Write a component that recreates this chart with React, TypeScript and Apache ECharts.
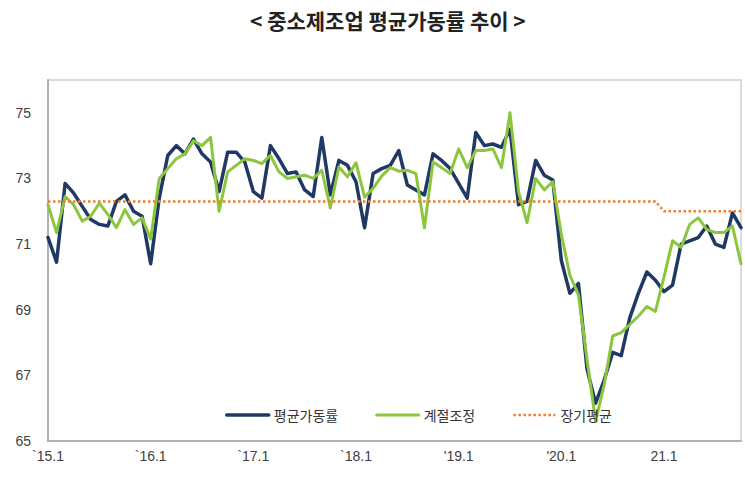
import { useEffect, useRef } from 'react';
import * as echarts from 'echarts';

// ─── Data ─────────────────────────────────────────────────────────────────────

const YEARS = [2015, 2016, 2017, 2018, 2019, 2020, 2021];
const LAST_MONTH_2021 = 10;

const MONTHS: string[] = YEARS.flatMap((y) =>
  Array.from({ length: y === 2021 ? LAST_MONTH_2021 : 12 }, (_, m) => `${y}.${m + 1}`),
);

const TICK_LABELS = ['`15.1', '`16.1', '`17.1', '`18.1', "'19.1", "'20.1", '21.1'];

// 평균가동률 (raw)
const AVG_RATE = [
  71.2, 70.45, 72.85, 72.55, 72.15, 71.75, 71.6, 71.55, 72.3, 72.5, 72.0, 71.85,
  70.4, 72.4, 73.7, 74.0, 73.75, 74.2, 73.75, 73.5, 72.6, 73.8, 73.8, 73.5,
  72.6, 72.4, 74.0, 73.6, 73.15, 73.2, 72.65, 72.45, 74.25, 72.5, 73.55, 73.4,
  72.9, 71.5, 73.15, 73.3, 73.4, 73.85, 72.8, 72.65, 72.5, 73.75, 73.55, 73.3,
  72.85, 72.4, 74.4, 74.0, 74.05, 73.95, 74.5, 72.2, 72.3, 73.55, 73.1, 72.95,
  70.5, 69.5, 69.8, 67.2, 66.15, 66.85, 67.7, 67.6, 68.75, 69.5, 70.15, 69.9,
  69.55, 69.75, 71.0, 71.1, 71.2, 71.55, 71.0, 70.9, 71.95, 71.5,
];

// 계절조정 (seasonally adjusted)
const SEASONAL = [
  72.2, 71.35, 72.45, 72.2, 71.7, 71.85, 72.25, 71.9, 71.5, 72.05, 71.6, 71.8,
  71.15, 73.0, 73.3, 73.6, 73.75, 74.15, 74.0, 74.25, 72.0, 73.2, 73.4, 73.6,
  73.55, 73.45, 73.7, 73.2, 73.0, 73.05, 73.1, 73.0, 73.25, 72.1, 73.35, 73.05,
  73.48, 72.43, 72.7, 73.07, 73.33, 73.22, 73.25, 73.15, 71.5, 73.5, 73.33, 73.15,
  73.9, 73.33, 73.85, 73.85, 73.9, 73.33, 75.0, 72.6, 71.65, 73.0, 72.65, 72.9,
  71.3, 70.05, 69.45, 67.5, 65.6, 66.7, 68.2, 68.3, 68.55, 68.8, 69.1, 68.95,
  70.0, 71.1, 70.9, 71.6, 71.8, 71.45, 71.35, 71.35, 71.55, 70.4,
];

// 장기평균 (long-term average)
const LONG_TERM = [
  ...Array(72).fill(72.3),
  ...Array(10).fill(72.0),
];

// ─── Option ───────────────────────────────────────────────────────────────────

function buildOption(): echarts.EChartsOption {
  return {
    animation: false,
    backgroundColor: '#ffffff',
    title: {
      text: '< 중소제조업 평균가동률 추이 >',
      left: 245,
      top: 4,
      textStyle: {
        fontFamily: 'Noto Sans CJK KR',
        fontSize: 21,
        fontWeight: 'bold',
        color: '#222222',
      },
    },
    grid: {
      left: 48,
      right: 4,
      top: 80,
      bottom: 40,
      show: true,
      borderColor: '#cfcfcf',
      borderWidth: 1.5,
      outerBoundsMode: 'none',
    } as any,
    legend: {
      left: 225,
      top: 408,
      padding: 0,
      itemWidth: 42,
      itemHeight: 14,
      itemGap: 37,
      itemStyle: { opacity: 0 },
      lineStyle: { width: 'inherit' } as any,
      textStyle: { fontFamily: 'Noto Sans CJK KR', fontSize: 14, color: '#333333' },
      data: ['평균가동률', '계절조정', '장기평균'],
    },
    xAxis: {
      type: 'category',
      data: MONTHS,
      boundaryGap: false,
      axisLine: { lineStyle: { color: '#b0b0b0', width: 2 } },
      axisTick: { show: false },
      splitLine: { show: false },
      axisLabel: {
        interval: (index: number) => index % 12 === 0,
        formatter: (_v: string, index: number) => TICK_LABELS[Math.floor(index / 12)] ?? '',
        fontFamily: 'Liberation Sans',
        fontSize: 14,
        color: '#404040',
        margin: 8,
      },
    },
    yAxis: {
      type: 'value',
      min: 65,
      max: 76,
      interval: 2,
      axisLine: { show: true, lineStyle: { color: '#b0b0b0', width: 2 } },
      axisTick: { show: false },
      splitLine: { show: false },
      axisLabel: {
        showMaxLabel: false,
        fontFamily: 'Liberation Sans',
        fontSize: 14,
        color: '#404040',
        margin: 17,
      },
    },
    series: [
      {
        name: '평균가동률',
        type: 'line',
        data: AVG_RATE,
        symbol: 'none',
        lineStyle: { color: '#1f3864', width: 3.5, join: 'round', cap: 'round' },
        itemStyle: { color: '#1f3864' },
      },
      {
        name: '계절조정',
        type: 'line',
        data: SEASONAL,
        symbol: 'none',
        lineStyle: { color: '#8cc63f', width: 3, join: 'round', cap: 'round' },
        itemStyle: { color: '#8cc63f' },
      },
      {
        name: '장기평균',
        type: 'line',
        data: LONG_TERM,
        symbol: 'none',
        lineStyle: { color: '#f07c2c', width: 2.5, type: 'dotted' },
        itemStyle: { color: '#f07c2c' },
      },
    ],
  };
}

// ─── Component ────────────────────────────────────────────────────────────────

export default function App() {
  const containerRef = useRef<HTMLDivElement>(null);

  useEffect(() => {
    if (!containerRef.current) return;
    const chart = echarts.init(containerRef.current, null, { renderer: 'svg' });
    chart.setOption(buildOption());
    return () => chart.dispose();
  }, []);

  return (
    <div
      ref={containerRef}
      style={{ position: 'absolute', left: 0, top: 0, width: 745, height: 481, background: '#fff' }}
    />
  );
}
